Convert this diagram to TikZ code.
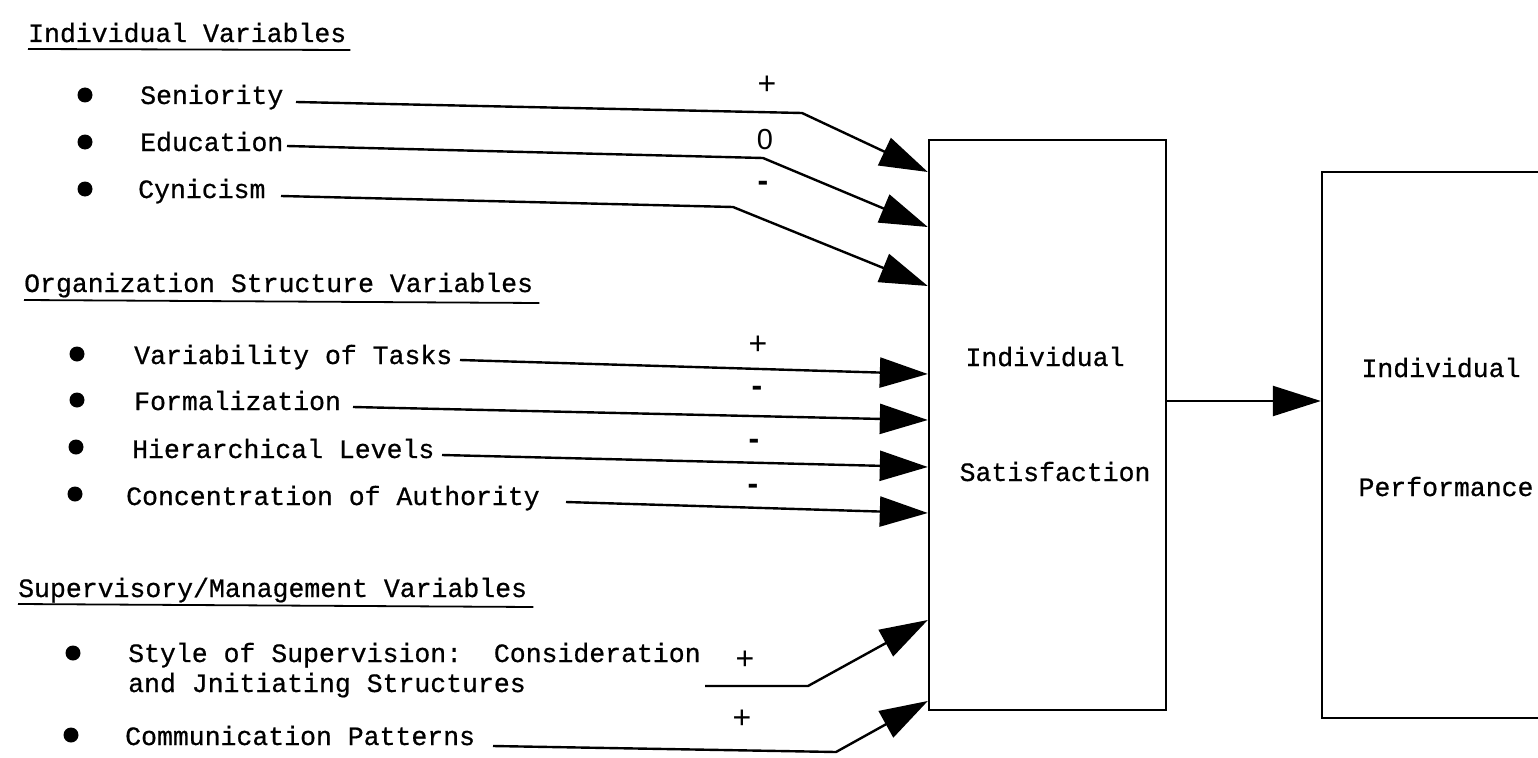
\documentclass[tikz,border=0pt]{standalone}
\usepackage{fontspec}
\setmonofont[FakeBold=0.6]{Liberation Mono}
\setsansfont{Liberation Sans}
\usetikzlibrary{arrows.meta,calc}
\begin{document}
\begin{tikzpicture}[x=1pt,y=-1pt,
  tt/.style={font=\ttfamily\fontsize{26.5}{30}\selectfont, inner sep=0pt, anchor=base west},
  bul/.style={circle, fill=black, inner sep=0pt, minimum size=15pt},
  link/.style={line width=2.4pt, -{Triangle[length=48pt,width=30pt]}},
  sign/.style={font=\sffamily\fontsize{32}{34}\selectfont, inner sep=0pt},
  zero/.style={font=\sffamily\fontsize{29}{31}\selectfont, inner sep=0pt},
  minus/.style={font=\sffamily\bfseries\fontsize{32}{34}\selectfont, inner sep=0pt},
  box/.style={draw, line width=2.4pt, inner sep=0pt},
  rule/.style={line width=1.8pt},
  boxtext/.style={font=\ttfamily\fontsize{26.5}{30}\selectfont, inner sep=0pt, anchor=base}]

\useasboundingbox (0,0) rectangle (1538,757);
\fill[white] (0,0) rectangle (1538,757);
\clip (0,0) rectangle (1538,757);

% --- outcome boxes ---
\node[box, minimum width=237pt, minimum height=570pt] (sat) at (1047.5,425) {};
\node[box, minimum width=300pt, minimum height=546pt] (perf) at (1472,445) {};
\node[boxtext] (satA) at (1045,366) {Individual};
\node[boxtext] (satB) at (1055,481) {Satisfaction};
\node[boxtext] (perfA) at (1441,377) {Individual};
\node[boxtext] (perfB) at (1446,496) {Performance};
\draw[link] (sat.east |- 0,401) -- (perf.west |- 0,401);

% --- individual variables ---
\node[tt] (g1) at (28,42) {Individual Variables};
\draw[rule] ($(g1.base west)+(0,7)$) -- ($(g1.base east)+(4,8)$);

\node[bul] (b1) at (85,95) {};
\node[tt] (sen) at (140,104) {Seniority};
\node[bul] (b2) at (85,142) {};
\node[tt] (edu) at (140,151) {Education};
\node[bul] (b3) at (85,189) {};
\node[tt] (cyn) at (138,198) {Cynicism};

\coordinate (sen0) at (296,102);
\coordinate (sen1) at (802,113);
\coordinate (edu0) at (287,146);
\coordinate (edu1) at (763,158);
\coordinate (cyn0) at (281,196);
\coordinate (cyn1) at (733,207);
\draw[link] (sen0) -- (sen1) -- (sat.west |- 0,172);
\draw[link] (edu0) -- (edu1) -- (sat.west |- 0,227);
\draw[link] (cyn0) -- (cyn1) -- (sat.west |- 0,286);
\node[sign] (s1) at (767,85) {+};
\node[zero] (s2) at (765,140) {0};
\node[minus] (s3) at (763,186) {-};

% --- organization structure variables ---
\node[tt] (g2) at (24,292) {Organization Structure Variables};
\draw[rule] ($(g2.base west)+(0,8)$) -- ($(g2.base east)+(6,11)$);

\node[bul] (b4) at (77,354) {};
\node[tt] (var) at (134,364) {Variability of Tasks};
\node[bul] (b5) at (77,400) {};
\node[tt] (frm) at (134,410) {Formalization};
\node[bul] (b6) at (76,447) {};
\node[tt] (hie) at (132,458) {Hierarchical Levels};
\node[bul] (b7) at (75,494) {};
\node[tt] (con) at (126,505) {Concentration of Authority};

\coordinate (var0) at (460,360);
\coordinate (frm0) at (353,407);
\coordinate (hie0) at (442,455);
\coordinate (con0) at (566,502);
\draw[link] (var0) -- (sat.west |- 0,374);
\draw[link] (frm0) -- (sat.west |- 0,420);
\draw[link] (hie0) -- (sat.west |- 0,467);
\draw[link] (con0) -- (sat.west |- 0,513);
\node[sign] (s4) at (758,345) {+};
\node[minus] (s5) at (757,391) {-};
\node[minus] (s6) at (754,444) {-};
\node[minus] (s7) at (753,489) {-};

% --- supervisory / management variables ---
\node[tt] (g3) at (18,597) {Supervisory/Management Variables};
\draw[rule] ($(g3.base west)+(0,7)$) -- ($(g3.base east)+(6,10)$);

\node[bul] (b8) at (73,653) {};
\node[tt] (sty) at (128,662) {Style of Supervision:\ \ Consideration};
\node[tt] (sty2) at (128,692) {and Jnitiating Structures};
\node[bul] (b9) at (71,735) {};
\node[tt] (com) at (125,745) {Communication Patterns};

\coordinate (sty0) at (705,686);
\coordinate (sty1) at (808,686);
\coordinate (com0) at (493,746);
\coordinate (com1) at (836,752);
\draw[link] (sty0) -- (sty1) -- (sat.west |- 0,620);
\draw[link] (com0) -- (com1) -- (sat.west |- 0,701);
\node[sign] (s8) at (745,660) {+};
\node[sign] (s9) at (742,719) {+};
\end{tikzpicture}
\end{document}
